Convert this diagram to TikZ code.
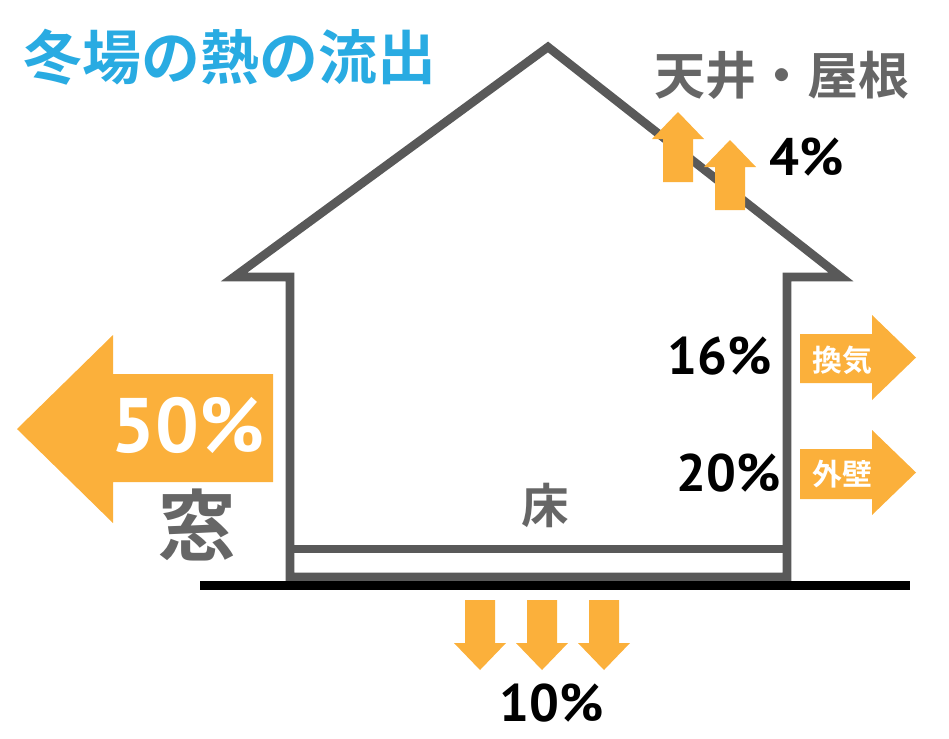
\documentclass[tikz,border=0pt]{standalone}
\usepackage{fontspec}
\usepackage{xcolor}
\usetikzlibrary{positioning}
\newfontfamily\jpfont{Noto Sans CJK JP}[BoldFont={Noto Sans CJK JP Bold}]
\newfontfamily\numfont{PT Sans}
\definecolor{housegray}{HTML}{595959}
\definecolor{labelgray}{HTML}{666666}
\definecolor{heatorange}{HTML}{FBB03B}
\definecolor{titleblue}{HTML}{29ABE2}
\tikzset{
  house/.style={draw=housegray,line width=4.9pt,line join=miter},
  ground/.style={draw=black,line width=5.1pt},
  heat/.style={fill=heatorange},
  heatarrow/.pic={\fill[heat] (-15,0) -- (-15,-43) -- (-26,-43) -- (0,-70)
                   -- (26,-43) -- (15,-43) -- (15,0) -- cycle;},
  titletext/.style={font=\jpfont\bfseries\fontsize{33.5pt}{33.5pt}\selectfont,
                    text=titleblue,inner sep=0pt},
  partlabel/.style={font=\jpfont\bfseries\fontsize{#1}{#1}\selectfont,
                    text=labelgray,inner sep=0pt},
  arrowlabel/.style={font=\jpfont\bfseries\fontsize{17pt}{17pt}\selectfont,
                     text=white,inner sep=0pt},
  pct/.style={font=\numfont\bfseries\fontsize{#1}{#1}\selectfont,
              text=black,inner sep=0pt},
  pct/.default=30pt
}
\begin{document}
\begin{tikzpicture}[x=0.02cm,y=-0.02cm]
    \path[use as bounding box] (0,0) rectangle (949,738);

    \node[titletext] (title) at (230,57) {冬場の熱の流出};

    % house
    \draw[house] (548,47) -- (234,277) -- (290,277) -- (290,577)
      -- (787,577) -- (787,277) -- (841,277) -- cycle;
    \draw[house] (290,549) -- (787,549);
    \draw[ground] (200,585.5) -- (910,585.5);

    \node[partlabel=27pt] (floor) at (545,505) {床};

    % roof
    \node[partlabel=29pt] (roof) at (782,75) {天井・屋根};
    \pic at (678,182) {heatarrow};
    \pic at (730,210) {heatarrow};
    \node[pct] (roofpct) at (807,157) {4\%};

    % window
    \fill[heat] (17,429) -- (113,335) -- (113,374) -- (273,374) -- (273,482)
      -- (113,482) -- (113,523) -- cycle;
    \node[pct=44pt,text=white] (winpct) at (188,425) {50\%};
    \node[partlabel=44pt] (window) at (197,525) {窓};

    % ventilation and outer wall
    \fill[heat] (800,334) -- (872,334) -- (872,315) -- (916,357.5) -- (872,400)
      -- (872,383) -- (800,383) -- cycle;
    \node[arrowlabel] (vent) at (842,360) {換気};
    \node[pct] (ventpct) at (720,356) {16\%};

    \fill[heat] (800,449) -- (872,449) -- (872,430) -- (916,472.5) -- (872,515)
      -- (872,499) -- (800,499) -- cycle;
    \node[arrowlabel] (wall) at (842,474) {外壁};
    \node[pct] (wallpct) at (729,473) {20\%};

    % floor
    \foreach \x in {480,542,604}
      \pic[rotate=180] at (\x,600) {heatarrow};
    \node[pct] (floorpct) at (552,703) {10\%};
  \end{tikzpicture}
\end{document}
